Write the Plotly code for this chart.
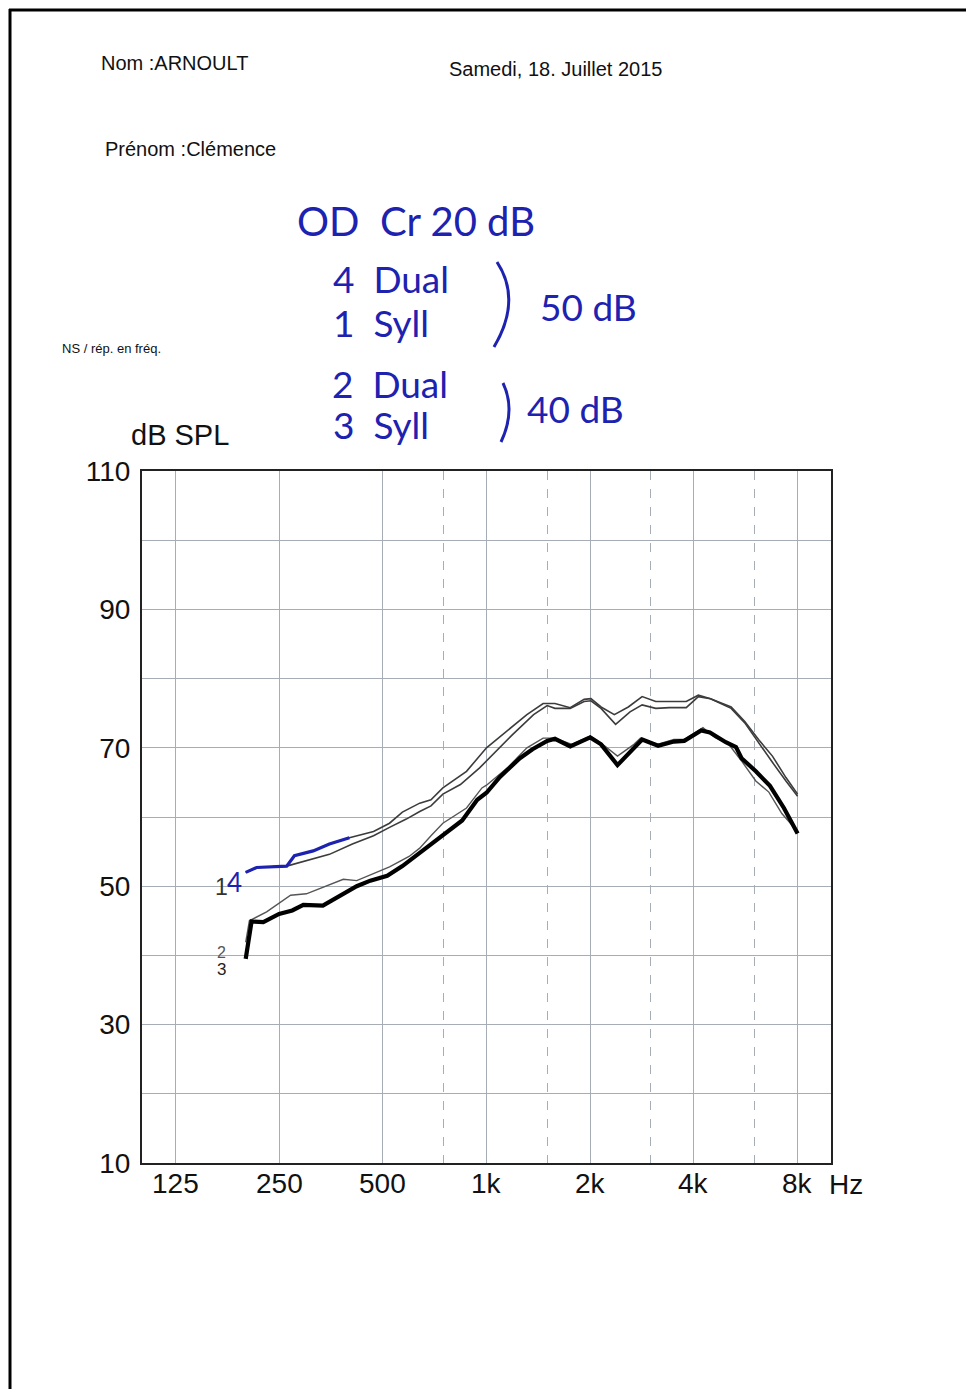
import math
import plotly.graph_objects as go

# ---------------- data ----------------
x_tick_vals = [125, 250, 500, 1000, 2000, 4000, 8000]
x_tick_text = ["125", "250", "500", "1k", "2k", "4k", "8k"]
x_half_octaves = [750, 1500, 3000, 6000]
y_tick_vals = [10, 20, 30, 40, 50, 60, 70, 80, 90, 100, 110]
y_tick_text = ["10", "", "30", "", "50", "", "70", "", "90", "", "110"]

# curve 1 : Syll 50 dB (thin)
freq1 = [200, 215, 263, 314, 350, 408, 470, 523, 585, 640, 690, 747, 840, 955, 1065, 1190,
         1370, 1500, 1580, 1750, 1920, 2010, 2150, 2370, 2610, 2830, 3100, 3400, 3800, 4120,
         4470, 5130, 5620, 6160, 6760, 7400, 8000]
db1 = [52.0, 52.7, 52.9, 53.9, 54.6, 56.1, 57.3, 58.5, 59.7, 60.8, 61.6, 63.3, 64.7, 67.1, 69.5, 71.9,
       74.8, 76.1, 75.7, 75.7, 76.7, 76.8, 75.7, 73.4, 75.2, 76.2, 75.7, 75.8, 75.8, 77.4,
       77.1, 75.7, 73.6, 70.7, 67.9, 65.2, 63.0]

# curve 4 : Dual 50 dB (thin, start traced over in blue ink)
freq4 = [200, 215, 263, 277, 314, 350, 400, 470, 523, 570, 640, 690, 747, 875, 1000, 1180,
         1310, 1460, 1580, 1750, 1920, 2010, 2150, 2350, 2580, 2830, 3100, 3400, 3800, 4120,
         4470, 5130, 5620, 6160, 6760, 7400, 8000]
db4 = [52.0, 52.7, 52.9, 54.4, 55.1, 56.1, 57.0, 57.9, 59.1, 60.7, 62.0, 62.5, 64.2, 66.6, 70.0, 72.9,
       74.8, 76.4, 76.4, 75.8, 77.0, 77.1, 75.9, 74.8, 75.9, 77.4, 76.7, 76.7, 76.7, 77.6,
       77.1, 75.9, 73.8, 71.2, 68.8, 65.7, 63.3]

# blue hand-traced part of curve 4
freq_ink = [200, 215, 263, 277, 314, 350, 400]
db_ink = [52.0, 52.7, 52.9, 54.4, 55.1, 56.1, 57.0]

# curve 2 : Dual 40 dB (thin)
freq2 = [200, 205, 230, 270, 300, 335, 384, 420, 470, 523, 596, 640, 690, 747, 875, 970,
         1000, 1150, 1310, 1460, 1580, 1770, 2000, 2150, 2400, 2680, 2800, 3130, 3500, 3750,
         4250, 4600, 5050, 5500, 6050, 6600, 7200, 8000]
db2 = [41.9, 45.0, 46.3, 48.7, 48.9, 49.8, 51.0, 50.8, 51.8, 52.8, 54.3, 55.5, 57.3, 59.1, 61.3, 64.2,
       64.6, 67.1, 70.0, 71.4, 71.4, 70.5, 71.7, 70.7, 68.8, 70.5, 71.4, 70.5, 71.2, 71.2,
       72.9, 71.5, 70.5, 68.1, 65.2, 63.6, 60.5, 57.9]

# curve 3 : Syll 40 dB (thick)
freq3 = [200, 208, 225, 250, 273, 294, 335, 375, 420, 460, 515, 570, 640, 690, 747, 850,
         940, 1000, 1094, 1250, 1360, 1500, 1580, 1750, 2000, 2150, 2400, 2680, 2830, 3150,
         3500, 3750, 4200, 4450, 4950, 5300, 5500, 6050, 6650, 7300, 7650, 8000]
db3 = [39.5, 44.9, 44.8, 46.0, 46.5, 47.3, 47.2, 48.6, 50.0, 50.8, 51.5, 52.9, 54.8, 56.2, 57.5, 59.5,
       62.5, 63.5, 65.8, 68.5, 69.8, 71.0, 71.3, 70.2, 71.5, 70.5, 67.5, 70.0, 71.2, 70.3,
       70.9, 71.0, 72.5, 72.2, 70.8, 70.1, 68.5, 66.6, 64.5, 61.3, 59.3, 57.6]

# ---------------- layout helpers ----------------
W, H = 974, 1389
PL, PR, PT, PB = 142, 831, 471, 1163   # plot area in screen pixels
BODY = 8                                 # default page body margin offset


def px(x):
    return (x - PL) / (PR - PL)


def py(y):
    return (PB - y) / (PB - PT)


PRINT_FONT = "Liberation Sans, Arial, sans-serif"
INK_FONT = "Lato, Noto Sans, sans-serif"
INK = "#1d22b0"
GRID = "#a7adb5"

fig = go.Figure()

thin = dict(color="#3c3c3c", width=1.6)
fig.add_trace(go.Scatter(x=freq1, y=db1, mode="lines", line=thin, name="1"))
fig.add_trace(go.Scatter(x=freq4, y=db4, mode="lines", line=thin, name="4"))
fig.add_trace(go.Scatter(x=freq2, y=db2, mode="lines", line=dict(color="#555555", width=1.4), name="2"))
fig.add_trace(go.Scatter(x=freq3, y=db3, mode="lines", line=dict(color="#000000", width=4.2), name="3"))
fig.add_trace(go.Scatter(x=freq_ink, y=db_ink, mode="lines", line=dict(color=INK, width=3.2), name="ink"))

annotations = []


def text(s, x, y, size, color="#111111", family=PRINT_FONT, xanchor="center"):
    annotations.append(dict(text=s, x=px(x), y=py(y), xref="paper", yref="paper",
                            showarrow=False, xanchor=xanchor, yanchor="middle",
                            font=dict(size=size, color=color, family=family)))


# x tick labels placed on the log axis
for v, t in zip(x_tick_vals, x_tick_text):
    annotations.append(dict(text=t, x=math.log10(v), y=py(1183), xref="x", yref="paper",
                            showarrow=False, xanchor="center", yanchor="middle",
                            font=dict(size=28, color="#111111", family=PRINT_FONT)))

text("Nom :ARNOULT", 99, 63, 20, xanchor="left")
text("Samedi, 18. Juillet 2015", 447, 69, 20, xanchor="left")
text("Prénom :Clémence", 103, 149, 20, xanchor="left")
text("NS / rép. en fréq.", 60, 348, 13, xanchor="left")
text("dB SPL", 180, 435, 29)
text("Hz", 846, 1184, 28)

# curve labels
text("1", 221, 887, 23, color="#333333")
text("4", 234, 882, 26, color=INK, family=INK_FONT)
text("2", 221, 952, 16, color="#555555")
text("3", 221, 969, 17, color="#222222")

# handwritten notes
text("OD  Cr 20 dB", 416, 221, 40, color=INK, family=INK_FONT)
text("4  Dual", 391, 278, 37, color=INK, family=INK_FONT)
text("1  Syll", 381, 322, 37, color=INK, family=INK_FONT)
text("50 dB", 588, 306, 37, color=INK, family=INK_FONT)
text("2  Dual", 390, 383, 37, color=INK, family=INK_FONT)
text("3  Syll", 381, 425, 37, color=INK, family=INK_FONT)
text("40 dB", 575, 408, 37, color=INK, family=INK_FONT)

shapes = [
    # brackets (ink)
    dict(type="path", xref="paper", yref="paper",
         path=f"M {px(497)},{py(262)} Q {px(522)},{py(300)} {px(494)},{py(347)}",
         line=dict(color=INK, width=3)),
    dict(type="path", xref="paper", yref="paper",
         path=f"M {px(503)},{py(383)} Q {px(516)},{py(410)} {px(501)},{py(442)}",
         line=dict(color=INK, width=3)),
    # scanned page edges
    dict(type="line", xref="paper", yref="paper", x0=px(9), x1=px(982), y0=py(10), y1=py(10),
         line=dict(color="#000000", width=3)),
    dict(type="line", xref="paper", yref="paper", x0=px(10), x1=px(10), y0=py(9), y1=py(1397),
         line=dict(color="#000000", width=3)),
]

fig.update_layout(
    width=W, height=H,
    margin=dict(l=PL - BODY, r=W - PR + BODY, t=PT - BODY, b=H - PB + BODY, pad=0),
    paper_bgcolor="white", plot_bgcolor="white",
    showlegend=False,
    annotations=annotations,
    shapes=shapes,
    font=dict(family=PRINT_FONT, color="#111111"),
)

fig.update_xaxes(
    type="log", range=[2, 4],
    tickmode="array", tickvals=x_tick_vals, ticktext=x_tick_text,
    showticklabels=False, ticks="",
    showgrid=True, gridcolor=GRID, gridwidth=1,
    minor=dict(tickvals=x_half_octaves, showgrid=True, gridcolor=GRID, griddash="dash", gridwidth=1, ticks=""),
    showline=True, mirror=True, linecolor="#222222", linewidth=2,
    zeroline=False,
)
fig.update_yaxes(
    range=[10, 110],
    tickmode="array", tickvals=y_tick_vals, ticktext=y_tick_text,
    tickfont=dict(size=28, family=PRINT_FONT, color="#111111"),
    ticks="", ticklabelstandoff=4,
    showgrid=True, gridcolor=GRID, gridwidth=1,
    showline=True, mirror=True, linecolor="#222222", linewidth=2,
    zeroline=False,
)

fig.write_html("out.html")
